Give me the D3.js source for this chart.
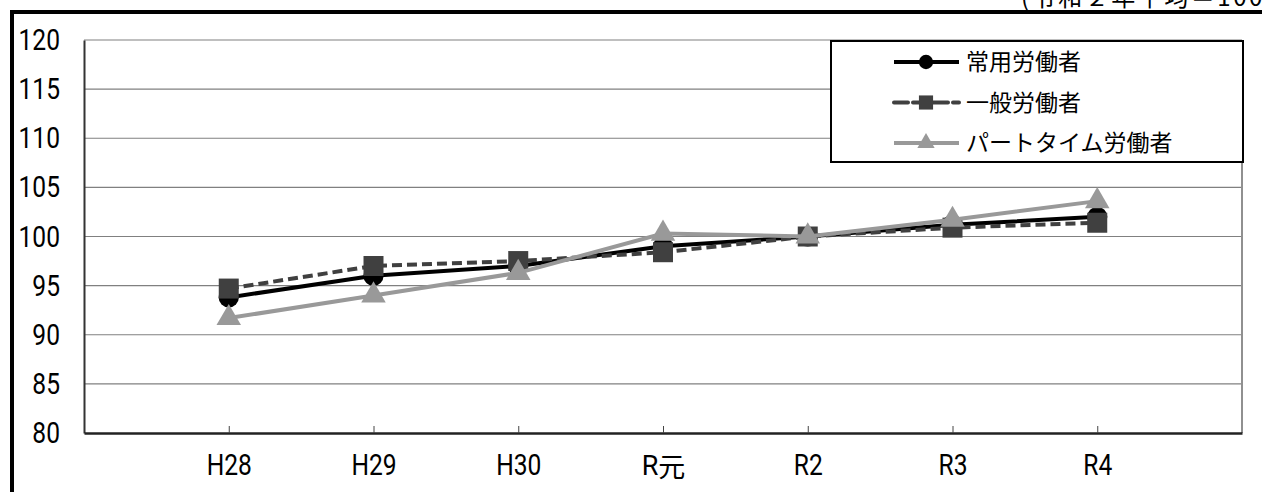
<!DOCTYPE html>
<html>
  <head>
    <meta charset="UTF-8" />
    <title>賃金指数</title>
    <style>
      body { margin: 0; background: #fff; }
      svg { display: block; }
      .num { font-family: Roboto, "Liberation Sans", sans-serif; }
      .jp { font-family: "Noto Sans CJK JP", sans-serif; }
    </style>
  </head>
  <body>
    <svg id="chart" width="1262" height="492"></svg>

    <script src="https://d3js.org/d3.v7.min.js"></script>
    <script>
      // data
      const years = ["H28", "H29", "H30", "R元", "R2", "R3", "R4"];
      const joyo = [93.8, 96.0, 97.0, 99.0, 100.0, 101.2, 102.0];
      const ippan = [94.7, 97.0, 97.5, 98.4, 100.0, 100.9, 101.4];
      const part = [91.7, 94.0, 96.3, 100.3, 100.0, 101.7, 103.6];
      const seriesNames = ["常用労働者", "一般労働者", "パートタイム労働者"];
      const yTicks = [80, 85, 90, 95, 100, 105, 110, 115, 120];

      const svg = d3.select("#chart");
      const plotL = 84, plotR = 1242, plotT = 40, plotB = 433;
      const squeeze = 0.82; // labels in the original use a narrow face

      const x = d3.scalePoint().domain(years).range([plotL, plotR]).padding(1);
      const y = d3.scaleLinear().domain([80, 120]).range([plotB, plotT]);

      // outer frame (only top and left show in the crop)
      svg.append("path")
        .attr("d", "M12,500 L12,12 L1270,12")
        .attr("fill", "none")
        .attr("stroke", "#000")
        .attr("stroke-width", 4);

      // unit note, cut at the top edge like the original
      svg.append("text")
        .attr("class", "jp")
        .attr("x", 1021)
        .attr("y", 6)
        .attr("font-size", 24)
        .attr("textLength", 252)
        .attr("lengthAdjust", "spacing")
        .attr("fill", "#000")
        .text("(令和２年平均＝100)");

      // gridlines
      svg.append("g")
        .selectAll("line")
        .data(yTicks.slice(1))
        .enter()
        .append("line")
        .attr("x1", plotL).attr("x2", plotR)
        .attr("y1", d => y(d)).attr("y2", d => y(d))
        .attr("stroke", "#808080")
        .attr("stroke-width", 1.2);

      // right border of plot area
      svg.append("line")
        .attr("x1", plotR).attr("x2", plotR)
        .attr("y1", plotT).attr("y2", plotB)
        .attr("stroke", "#909090").attr("stroke-width", 2);

      // y axis
      const yAxis = svg.append("g")
        .attr("transform", `translate(${plotL},0)`)
        .call(d3.axisLeft(y).tickValues(yTicks).tickSize(0));
      yAxis.select(".domain").attr("stroke", "#333").attr("stroke-width", 2);
      yAxis.selectAll("text")
        .attr("class", "num")
        .attr("font-size", 30)
        .attr("fill", "#000")
        .attr("x", -24 / squeeze)
        .attr("transform", `scale(${squeeze},1)`);

      // x axis, ticks pointing up into the plot
      const xAxis = svg.append("g")
        .attr("transform", `translate(0,${plotB})`)
        .call(d3.axisBottom(x).tickSize(-7).tickSizeOuter(0).tickPadding(20));
      xAxis.select(".domain").attr("stroke", "#222").attr("stroke-width", 2.5);
      xAxis.selectAll(".tick line").attr("stroke", "#444");
      xAxis.selectAll("text")
        .attr("font-size", 30)
        .attr("fill", "#000")
        .attr("dy", "0.74em")
        .each(function (d) {
          const t = d3.select(this).text("");
          if (/[^\x00-\x7F]/.test(d)) {
            t.append("tspan").attr("class", "num").attr("font-size", 27).text(d[0]);
            t.append("tspan").attr("class", "jp").attr("font-size", 27).attr("dy", 2).text(d.slice(1));
          } else {
            t.attr("class", "num").attr("transform", `scale(${squeeze},1)`).text(d);
          }
        });

      const series = [
        { name: seriesNames[0], values: joyo, color: "#000", dash: null, legendDash: null, shape: d3.symbolCircle, size: 320 },
        { name: seriesNames[1], values: ippan, color: "#404040", dash: "10,5", legendDash: "14,5,35,5,6,50", shape: d3.symbolSquare, size: 400 },
        { name: seriesNames[2], values: part, color: "#999999", dash: null, legendDash: null, shape: d3.symbolTriangle, size: 260 },
      ];

      const line = d3.line()
        .x((d, i) => x(years[i]))
        .y(d => y(d));

      series.forEach(s => {
        const g = svg.append("g");
        g.append("path")
          .datum(s.values)
          .attr("d", line)
          .attr("fill", "none")
          .attr("stroke", s.color)
          .attr("stroke-width", 4)
          .attr("stroke-dasharray", s.dash);
        g.selectAll("path.mark")
          .data(s.values)
          .enter()
          .append("path")
          .attr("class", "mark")
          .attr("d", d3.symbol().type(s.shape).size(s.size))
          .attr("transform", (d, i) => `translate(${x(years[i])},${y(d)})`)
          .attr("fill", s.color);
      });

      // legend
      const lg = svg.append("g").attr("transform", "translate(831,41)");
      lg.append("rect")
        .attr("width", 412).attr("height", 121)
        .attr("fill", "#fff")
        .attr("stroke", "#000").attr("stroke-width", 2);
      series.forEach((s, i) => {
        const row = lg.append("g").attr("transform", `translate(0,${21 + i * 40.5})`);
        row.append("line")
          .attr("x1", 63).attr("x2", 128)
          .attr("stroke", s.color).attr("stroke-width", 4)
          .attr("stroke-linecap", s.legendDash ? "round" : "butt")
          .attr("stroke-dasharray", s.legendDash);
        row.append("path")
          .attr("d", d3.symbol().type(s.shape).size(s.size * 0.5))
          .attr("transform", "translate(95,0)")
          .attr("fill", s.color);
        row.append("text")
          .attr("class", "jp")
          .attr("x", 135).attr("y", 0)
          .attr("dy", "0.36em")
          .attr("font-size", 23)
          .text(s.name);
      });
    </script>
  </body>
</html>
